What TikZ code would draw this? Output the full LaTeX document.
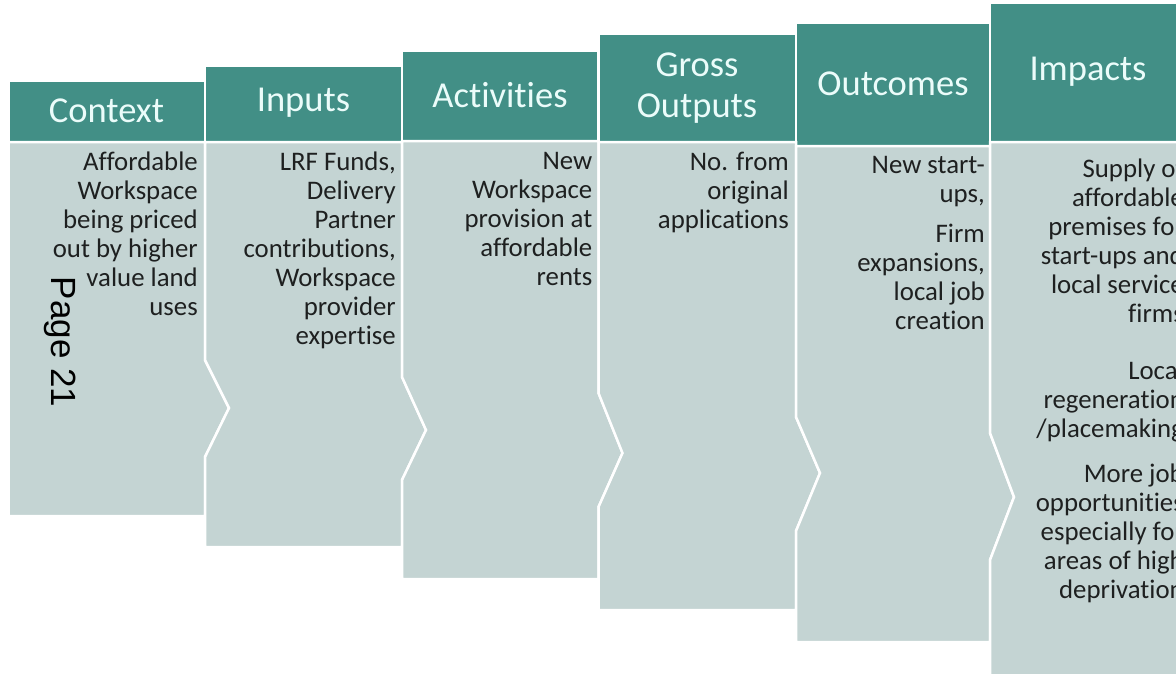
\documentclass[tikz,border=0pt]{standalone}
\usepackage{fontspec}
\setmainfont{Carlito}[Ligatures={NoCommon}]
\newfontfamily\pagefont{Liberation Sans}
\definecolor{headfill}{RGB}{66,143,134}
\definecolor{bodyfill}{RGB}{196,212,211}
\definecolor{headtext}{RGB}{235,252,250}
\definecolor{bodytext}{RGB}{30,32,32}
\tikzset{
  headbox/.style={fill=headfill,draw=white,line width=2.5pt},
  bodybox/.style={fill=bodyfill,draw=white,line width=2.5pt,line join=miter},
  headlabel/.style={text=headtext,font=\fontsize{36.5}{41}\selectfont,align=center,inner sep=0pt},
  bodylabel/.style={text=bodytext,font=\fontsize{26.8}{29}\selectfont,align=right,inner sep=0pt,anchor=north east},
}
\begin{document}
\begin{tikzpicture}[x=1pt,y=-1pt]
\useasboundingbox (0,0) rectangle (1176,673);
\clip (0,0) rectangle (1176,673);
% column boundaries
\def\bA{8.5}\def\bB{205}\def\bC{402}\def\bD{598.5}\def\bE{796}\def\bF{990}\def\bG{1186}
% headers
\draw[headbox] (\bA,81) rectangle (\bB,142);
\draw[headbox] (\bB,66) rectangle (\bC,142);
\draw[headbox] (\bC,51) rectangle (\bD,141);
\draw[headbox] (\bD,34) rectangle (\bE,142);
\draw[headbox] (\bE,23) rectangle (\bF,146);
\draw[headbox] (\bF,3) rectangle (\bG,142);
% bodies
\draw[bodybox] (\bA,142) -- (\bB,142) -- (\bB,360) -- (\bB+24,408) -- (\bB,457) -- (\bB,516) -- (\bA,516) -- cycle;
\draw[bodybox] (\bB,142) -- (\bC,142) -- (\bC,377) -- (\bC+24,430) -- (\bC,480) -- (\bC,547) -- (\bB,547) -- (\bB,457) -- (\bB+24,408) -- (\bB,360) -- cycle;
\draw[bodybox] (\bC,141) -- (\bD,141) -- (\bD,393) -- (\bD+24,453) -- (\bD,507) -- (\bD,579) -- (\bC,579) -- (\bC,480) -- (\bC+24,430) -- (\bC,377) -- cycle;
\draw[bodybox] (\bD,142) -- (\bE,142) -- (\bE,417) -- (\bE+24,473) -- (\bE,531) -- (\bE,610) -- (\bD,610) -- (\bD,507) -- (\bD+24,453) -- (\bD,393) -- cycle;
\draw[bodybox] (\bE,146) -- (\bF,146) -- (\bF,433) -- (\bF+24,497) -- (\bF,560) -- (\bF,642) -- (\bE,642) -- (\bE,531) -- (\bE+24,473) -- (\bE,417) -- cycle;
\draw[bodybox] (\bF,142) -- (\bG,142) -- (\bG,700) -- (\bF,700) -- (\bF,560) -- (\bF+24,497) -- (\bF,433) -- cycle;
% header labels
\node[headlabel] (h1) at (106.5,111) {Context};
\node[headlabel] (h2) at (303.5,103) {Inputs};
\node[headlabel] (h3) at (500,95) {Activities};
\node[headlabel] (h4) at (697,88) {Gross\\Outputs};
\node[headlabel] (h5) at (893,84) {Outcomes};
\node[headlabel] (h6) at (1088,72) {Impacts};
% body labels
\node[bodylabel] (t1) at (\bB-7,152) {Affordable\\Workspace\\being priced\\out by higher\\value land\\uses};
\node[bodylabel] (t2) at (\bC-6,152) {LRF Funds,\\Delivery\\Partner\\contributions,\\Workspace\\provider\\expertise};
\node[bodylabel] (t3) at (\bD-6,152) {New\\Workspace\\provision at\\affordable\\rents};
\node[bodylabel] (t4) at (\bE-7,152) {No. from\\original\\applications};
\node[bodylabel] (t5) at (\bF-5,156) {New start-\\ups,\\[11pt]Firm\\expansions,\\local job\\creation};
\node[bodylabel] (t6) at (\bG-2,159) {Supply of\\affordable\\premises for\\start-ups and\\local service\\firms\\[28pt]Local\\regeneration\\/placemaking\\[16pt]More job\\opportunities\\especially for\\areas of high\\deprivation};
% page stamp
\node[rotate=-90,font=\pagefont\fontsize{35}{40}\selectfont,text=black,inner sep=0pt] (pg) at (60,342) {Page 21};
\end{tikzpicture}
\end{document}
